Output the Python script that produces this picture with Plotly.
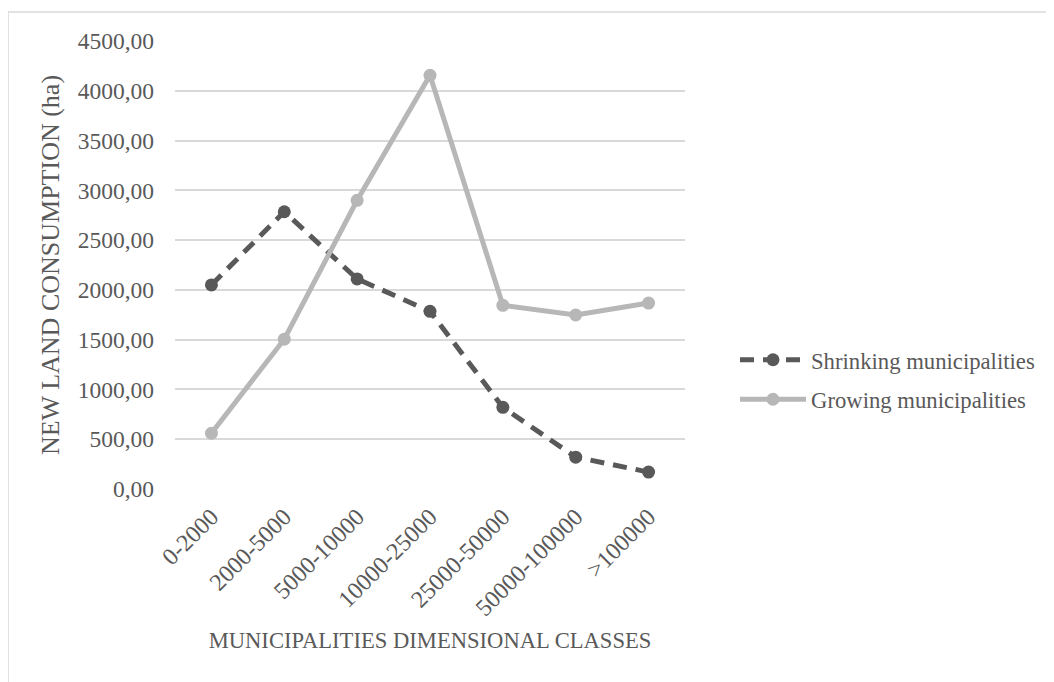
import plotly.graph_objects as go

categories = ["0-2000", "2000-5000", "5000-10000", "10000-25000", "25000-50000", "50000-100000", ">100000"]
shrinking = [2050, 2785, 2110, 1785, 820, 320, 170]
growing = [560, 1505, 2900, 4155, 1845, 1748, 1868]
y_ticks = [0, 500, 1000, 1500, 2000, 2500, 3000, 3500, 4000, 4500]
y_tick_text = ["0,00", "500,00", "1000,00", "1500,00", "2000,00", "2500,00", "3000,00", "3500,00", "4000,00", "4500,00"]

FONT = "Liberation Serif, Times New Roman, serif"
TXT = "#595959"

fig = go.Figure()
fig.add_trace(go.Scatter(
    x=categories, y=shrinking, name="Shrinking municipalities", mode="lines+markers",
    legendgroup="a",
    line=dict(color="#595959", width=5, dash="14px,9px"),
    marker=dict(color="#595959", size=13, symbol="circle"),
))
fig.add_trace(go.Scatter(
    x=categories, y=growing, name="Growing municipalities", mode="lines+markers",
    legendgroup="b",
    line=dict(color="#b7b7b7", width=5),
    marker=dict(color="#b7b7b7", size=13, symbol="circle"),
))

# page body has an 8px margin: work in screen pixels and convert
OFF = 8
FW, FH = 1054 - OFF, 682 - OFF
PL, PR, PT, PB = 175, 685, 41, 489          # plot area in screen pixels
L, T = PL - OFF, PT - OFF
W, H = PR - PL, PB - PT
R, B = FW - L - W, FH - T - H

def px_x(p):
    return (p - PL) / W

def px_y(p):
    return (PB - p) / H

fig.update_layout(
    width=FW, height=FH,
    margin=dict(l=L, r=R, t=T, b=B, autoexpand=False),
    paper_bgcolor="white", plot_bgcolor="white",
    font=dict(family=FONT, size=22, color=TXT),
    showlegend=True,
    legend=dict(x=px_x(735), y=px_y(380), xanchor="left", yanchor="middle",
                font=dict(family=FONT, size=22.7, color=TXT), bgcolor="rgba(0,0,0,0)",
                tracegroupgap=7, itemwidth=66, traceorder="grouped"),
    xaxis=dict(
        type="category", range=[-0.5, 6.5], showgrid=False, showline=False, zeroline=False,
        tickangle=-45, tickfont=dict(family=FONT, size=24, color=TXT),
        ticks="", ticklabelstandoff=8,
        title=dict(text="MUNICIPALITIES DIMENSIONAL CLASSES", font=dict(family=FONT, size=22.6, color=TXT), standoff=12),
        automargin=False,
    ),
    yaxis=dict(
        range=[0, 4500], tickvals=y_ticks, ticktext=y_tick_text,
        showgrid=True, gridcolor="#d9d9d9", gridwidth=1.5, zeroline=False, showline=False,
        tickfont=dict(family=FONT, size=23.5, color=TXT), ticks="", ticklabelstandoff=20,
        title=dict(text="NEW LAND CONSUMPTION (ha)", font=dict(family=FONT, size=26, color=TXT), standoff=10),
        automargin=False,
    ),
    shapes=[
        dict(type="line", xref="paper", yref="paper", x0=px_x(8), x1=px_x(1060), y0=px_y(12), y1=px_y(12),
             line=dict(color="#d9d9d9", width=1.5)),
        dict(type="line", xref="paper", yref="paper", x0=px_x(8), x1=px_x(8), y0=px_y(12), y1=px_y(690),
             line=dict(color="#d9d9d9", width=1.5)),
    ],
)

fig.write_html("out.html")
